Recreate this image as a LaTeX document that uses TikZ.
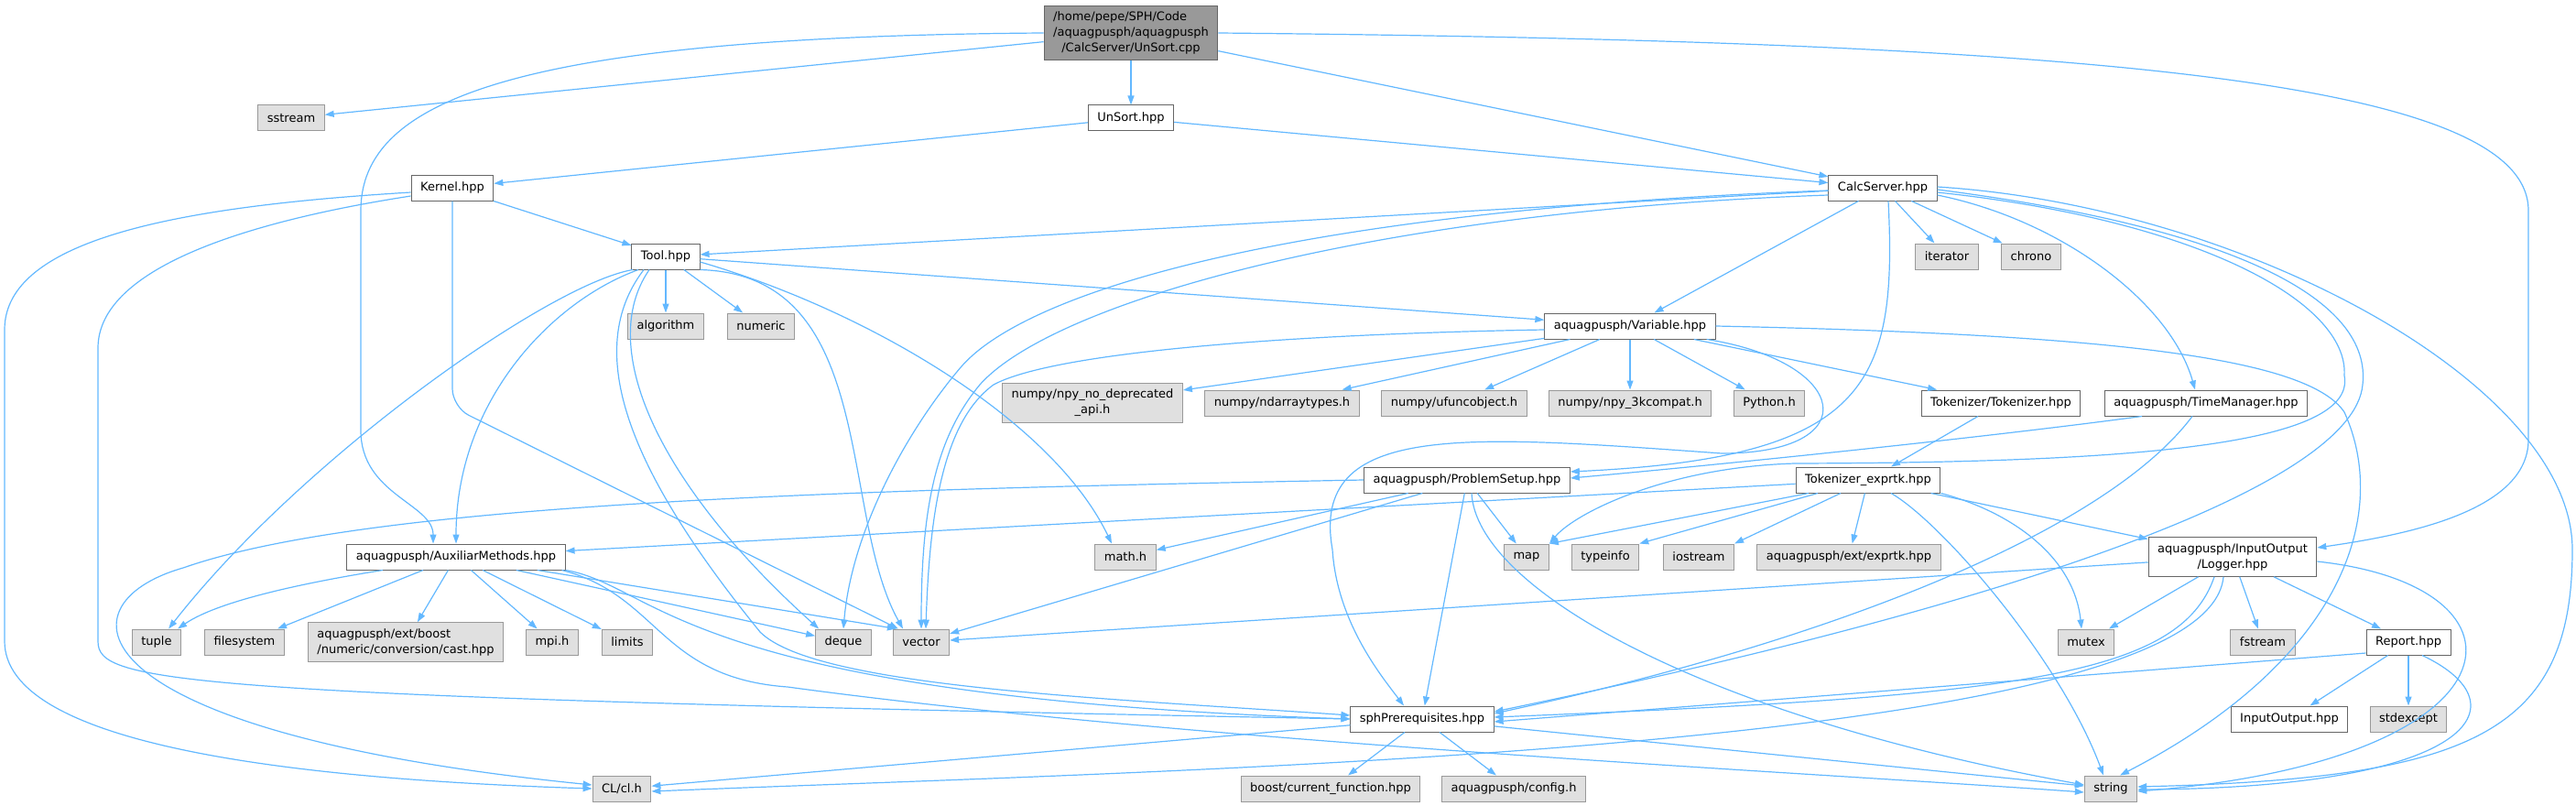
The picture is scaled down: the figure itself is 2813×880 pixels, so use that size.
\documentclass[tikz,border=0pt]{standalone}
\usepackage{fontspec}
\setmainfont{DejaVu Sans}
\usepackage{tikz}
\usetikzlibrary{arrows.meta,positioning}
\definecolor{edgeblue}{HTML}{63B8FF}
\definecolor{extfill}{HTML}{E0E0E0}
\definecolor{extline}{HTML}{999999}
\definecolor{fileline}{HTML}{666666}

\begin{document}
\begin{tikzpicture}[x=1pt, y=-1pt,
  file/.style={rectangle, draw=fileline, fill=white, line width=1pt,
    inner xsep=10pt, inner ysep=6.5pt, minimum height=28pt,
    font=\fontsize{13}{17}\selectfont, align=center},
  extfile/.style={file, draw=extline, fill=extfill},
  rootfile/.style={file, draw=fileline, fill=extline},
  edge/.style={draw=edgeblue, line width=1.2pt, -{Triangle[length=10pt,width=7pt]}},
  ]
  \useasboundingbox (0,0) rectangle (2813,880);
  %nodes
  \node at (1235, 36) [rootfile] (unsortcpp) {\rlap{/home/pepe/SPH/Code}\hphantom{/aquagpusph/aquagpusph}\\/aquagpusph/aquagpusph\\/CalcServer/UnSort.cpp};
  \node at (318, 129) [extfile] (sstream) {sstream};
  \node at (1235, 129) [file] (unsorthpp) {UnSort.hpp};
  \node at (494, 205) [file] (kernel) {Kernel.hpp};
  \node at (2056, 205) [file] (calcserver) {CalcServer.hpp};
  \node at (727, 280) [file] (tool) {Tool.hpp};
  \node at (2126, 280) [extfile] (iterator) {iterator};
  \node at (2218, 280) [extfile] (chrono) {chrono};
  \node at (727, 356) [extfile] (algorithm) {algorithm};
  \node at (831, 356) [extfile] (numeric) {numeric};
  \node at (1780, 356) [file] (variable) {aquagpusph/Variable.hpp};
  \node at (1193, 440) [extfile] (npydep) {numpy/npy\_no\_deprecated\\\_api.h};
  \node at (1400, 440) [extfile] (ndarray) {numpy/ndarraytypes.h};
  \node at (1588, 440) [extfile] (ufunc) {numpy/ufuncobject.h};
  \node at (1780, 440) [extfile] (npy3k) {numpy/npy\_3kcompat.h};
  \node at (1932, 440) [extfile] (python) {Python.h};
  \node at (2185, 440) [file] (tokenizer) {Tokenizer/Tokenizer.hpp};
  \node at (2409, 440) [file] (timemanager) {aquagpusph/TimeManager.hpp};
  \node at (1602, 524) [file] (problemsetup) {aquagpusph/ProblemSetup.hpp};
  \node at (2040, 524) [file] (exprtk) {Tokenizer\_exprtk.hpp};
  \node at (498, 608) [file] (auxiliar) {aquagpusph/AuxiliarMethods.hpp};
  \node at (1229, 608) [extfile] (mathh) {math.h};
  \node at (1667, 608) [extfile] (map) {map};
  \node at (1753, 608) [extfile] (typeinfo) {typeinfo};
  \node at (1855, 608) [extfile] (iostream) {iostream};
  \node at (2019, 608) [extfile] (extexprtk) {aquagpusph/ext/exprtk.hpp};
  \node at (2438, 608) [file] (logger) {aquagpusph/InputOutput\\/Logger.hpp};
  \node at (171, 701) [extfile] (tuple) {tuple};
  \node at (267, 701) [extfile] (filesystem) {filesystem};
  \node at (443, 701) [extfile, align=left] (boostcast) {aquagpusph/ext/boost\\/numeric/conversion/cast.hpp};
  \node at (603, 701) [extfile] (mpi) {mpi.h};
  \node at (685, 701) [extfile] (limits) {limits};
  \node at (921, 701) [extfile] (deque) {deque};
  \node at (1006, 701) [extfile] (vector) {vector};
  \node at (2278, 701) [extfile] (mutex) {mutex};
  \node at (2471, 701) [extfile] (fstream) {fstream};
  \node at (2630, 701) [file] (report) {Report.hpp};
  \node at (1553, 785) [file] (sphprereq) {sphPrerequisites.hpp};
  \node at (2500, 785) [file] (inputoutput) {InputOutput.hpp};
  \node at (2630, 785) [extfile] (stdexcept) {stdexcept};
  \node at (679, 861) [extfile] (cl) {CL/cl.h};
  \node at (1453, 861) [extfile] (curfunc) {boost/current\_function.hpp};
  \node at (1653, 861) [extfile] (config) {aquagpusph/config.h};
  \node at (2305, 861) [extfile] (string) {string};

  %edges
  \draw[edge] (unsortcpp) -- (sstream);
  \draw[edge] (unsortcpp) -- (unsorthpp);
  \draw[edge] (unsortcpp) -- (calcserver);
  \draw[edge] (unsortcpp.west) .. controls (560,40) and (394,110) .. (394,230) -- (394,470) .. controls (394,540) and (473,550) .. ([xshift=-25pt]auxiliar.north);
  \draw[edge] (unsortcpp.east) .. controls (2300,45) and (2761,90) .. (2761,230) -- (2761,480) .. controls (2761,560) and (2620,585) .. ([yshift=10pt]logger.east);

  \draw[edge] (unsorthpp) -- (kernel);
  \draw[edge] (unsorthpp) -- (calcserver);

  \draw[edge] (kernel) -- (tool);
  \draw[edge] ([yshift=-5pt]kernel.west) .. controls (200,225) and (5,260) .. (5,360) -- (5,700) .. controls (5,810) and (300,850) .. (cl.west);
  \draw[edge] ([yshift=-9pt]kernel.west) .. controls (280,240) and (107,290) .. (107,380) -- (107,700) .. controls (107,745) and (180,760) .. (sphprereq.west);
  \draw[edge, rounded corners=20pt] (kernel.south) -- ++(0,225) -- ([xshift=6pt]vector.north west);

  \draw[edge] (calcserver) -- (tool);
  \draw[edge] (calcserver) -- (iterator);
  \draw[edge] (calcserver) -- (chrono);
  \draw[edge] (calcserver) -- (variable);
  \draw[edge] ([xshift=6pt]calcserver.south) .. controls (2072,420) and (2040,500) .. ([yshift=9pt]problemsetup.east);
  \draw[edge] ([yshift=-8pt]calcserver.east) .. controls (2250,240) and (2370,330) .. ([xshift=-12pt]timemanager.north);
  \draw[edge] ([yshift=-3pt]calcserver.west) .. controls (1400,230) and (1120,320) .. (1050,400) .. controls (990,470) and (930,580) .. (deque.north);
  \draw[edge] ([yshift=-8pt]calcserver.west) .. controls (1500,230) and (1150,330) .. (1070,420) .. controls (1020,480) and (1006,560) .. (vector.north);
  \draw[edge] ([yshift=-5pt]calcserver.east) .. controls (2400,240) and (2565,330) .. (2560,410) .. controls (2575,490) and (2300,505) .. (1960,506) .. controls (1820,510) and (1720,560) .. (map.north east);
  \draw[edge] ([yshift=-2pt]calcserver.east) .. controls (2450,250) and (2590,330) .. (2580,420) .. controls (2570,530) and (2200,660) .. ([yshift=8pt]sphprereq.east);
  \draw[edge] ([yshift=1pt]calcserver.east) .. controls (2450,225) and (2809,420) .. (2809,600) .. controls (2809,800) and (2700,850) .. ([yshift=2pt]string.east);

  \draw[edge] (tool) -- (algorithm);
  \draw[edge] (tool) -- (numeric);
  \draw[edge] (tool) -- (variable);
  \draw[edge] ([xshift=-36pt]tool.south) .. controls (600,310) and (330,500) .. ([xshift=-14pt]tuple.north east);
  \draw[edge] ([xshift=-30pt]tool.south) .. controls (600,330) and (498,440) .. (auxiliar.north);
  \draw[edge] ([xshift=-24pt]tool.south) .. controls (630,390) and (700,530) .. (830,690) .. controls (890,750) and (1200,762) .. ([yshift=4pt]sphprereq.west);
  \draw[edge] ([xshift=-18pt]tool.south) .. controls (650,380) and (720,530) .. ([xshift=4pt]deque.north west);
  \draw[edge] (tool.south east) .. controls (960,300) and (915,560) .. ([xshift=-20pt]vector.north);
  \draw[edge] ([yshift=-6pt]tool.east) .. controls (950,340) and (1150,460) .. ([xshift=-15pt]mathh.north);

  \draw[edge] (variable) -- (npydep);
  \draw[edge] (variable) -- (ndarray);
  \draw[edge] (variable) -- (ufunc);
  \draw[edge] (variable) -- (npy3k);
  \draw[edge] (variable) -- (python);
  \draw[edge] (variable) -- (tokenizer);
  \draw[edge] ([yshift=-4pt]variable.west) .. controls (1400,365) and (1150,385) .. (1085,420) .. controls (1030,460) and (1015,560) .. ([xshift=5pt]vector.north);
  \draw[edge] ([xshift=-10pt]variable.south east) .. controls (2020,395) and (2040,495) .. (1880,495) .. controls (1600,475) and (1430,460) .. (1455,600) .. controls (1460,680) and (1510,740) .. ([xshift=-20pt]sphprereq.north);
  \draw[edge] (variable.east) .. controls (2300,365) and (2520,390) .. (2560,450) .. controls (2610,560) and (2560,720) .. ([xshift=10pt]string.north);

  \draw[edge] (tokenizer) -- (exprtk);

  \draw[edge] ([xshift=-70pt]timemanager.south) .. controls (2150,480) and (1850,510) .. ([yshift=2pt]problemsetup.east);
  \draw[edge] ([xshift=-15pt]timemanager.south) .. controls (2300,580) and (2000,700) .. ([yshift=6pt]sphprereq.east);

  \draw[edge] (problemsetup.west) .. controls (900,535) and (400,550) .. (200,620) .. controls (60,660) and (80,800) .. ([yshift=4pt]cl.west);
  \draw[edge] (problemsetup) -- (mathh);
  \draw[edge] (problemsetup) -- (vector);
  \draw[edge] (problemsetup) -- (sphprereq);
  \draw[edge] (problemsetup) -- (map);
  \draw[edge] ([xshift=5pt]problemsetup.south) .. controls (1612,640) and (1850,780) .. ([yshift=4pt]string.west);

  \draw[edge] (exprtk) -- (auxiliar);
  \draw[edge] ([xshift=-65pt]exprtk.south) -- (map.north east);
  \draw[edge] ([xshift=-55pt]exprtk.south) -- (typeinfo.north east);
  \draw[edge] ([xshift=-30pt]exprtk.south) -- (iostream.north east);
  \draw[edge] (exprtk) -- (extexprtk);
  \draw[edge] (exprtk) -- (logger);
  \draw[edge] (exprtk.south east) .. controls (2200,560) and (2265,610) .. ([xshift=-5pt]mutex.north);
  \draw[edge] ([xshift=25pt]exprtk.south) .. controls (2120,570) and (2250,720) .. ([xshift=-8pt]string.north);

  \draw[edge] (logger) -- (vector);
  \draw[edge] (logger) -- (mutex);
  \draw[edge] (logger) -- (fstream);
  \draw[edge] (logger) -- (report);
  \draw[edge] ([xshift=-20pt]logger.south) .. controls (2380,740) and (2200,760) .. ([yshift=2pt]sphprereq.east);
  \draw[edge] ([xshift=-10pt]logger.south) .. controls (2410,820) and (1300,840) .. ([yshift=-3pt]cl.east);
  \draw[edge] ([yshift=-5pt]logger.east) .. controls (2780,640) and (2760,830) .. ([yshift=-3pt]string.east);

  \draw[edge] (report) -- (inputoutput);
  \draw[edge] (report) -- (stdexcept);
  \draw[edge] ([yshift=-12pt]report.west) -- ([yshift=-3pt]sphprereq.east);
  \draw[edge] ([xshift=15pt]report.south) .. controls (2760,770) and (2700,860) .. ([yshift=-1pt]string.east);

  \draw[edge] ([xshift=-80pt]auxiliar.south) .. controls (340,635) and (240,655) .. ([xshift=-4pt]tuple.north east);
  \draw[edge] (auxiliar) -- (filesystem);
  \draw[edge] (auxiliar) -- (boostcast);
  \draw[edge] (auxiliar) -- (mpi);
  \draw[edge] (auxiliar) -- (limits);
  \draw[edge] (auxiliar) -- (deque);
  \draw[edge] (auxiliar) -- ([xshift=4pt]vector.north west);
  \draw[edge] (auxiliar.south east) .. controls (720,640) and (740,760) .. (sphprereq.west);
  \draw[edge] ([xshift=-4pt]auxiliar.south east) .. controls (720,650) and (720,740) .. (860,750) .. controls (1300,810) and (2000,845) .. ([yshift=-4pt]string.west);

  \draw[edge] (sphprereq) -- (curfunc);
  \draw[edge] (sphprereq) -- (config);
  \draw[edge] (sphprereq) -- (cl);
  \draw[edge] (sphprereq) -- (string);
\end{tikzpicture}
\end{document}
